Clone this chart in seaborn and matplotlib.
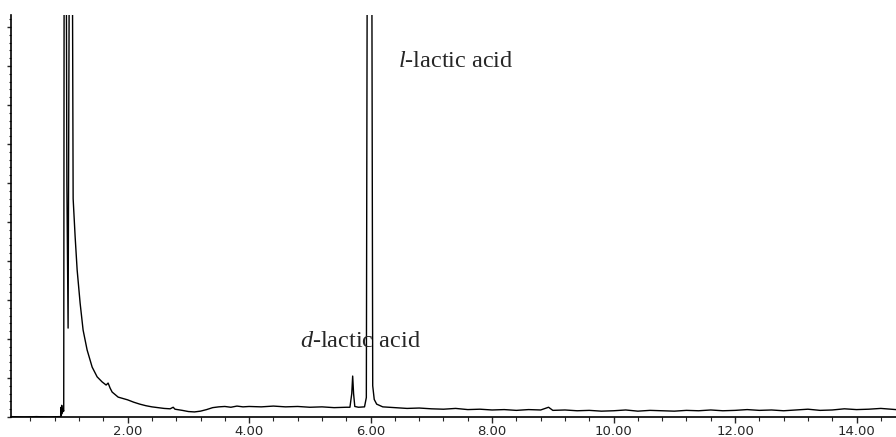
import numpy as np
import pandas as pd
import seaborn as sns
import matplotlib
matplotlib.use("Agg")
import matplotlib.pyplot as plt
from matplotlib.ticker import MultipleLocator, FormatStrFormatter, NullFormatter

# retention time (min) and detector response (arbitrary units)
time = [0.08, 0.30, 0.50, 0.70, 0.88, 0.900, 0.905, 0.910, 0.915, 0.925, 0.935, 0.948,
        0.955, 0.990, 1.000, 1.020, 1.040, 1.090, 1.103,
        1.136, 1.169, 1.218, 1.267, 1.333, 1.416, 1.498, 1.580, 1.646, 1.679, 1.712,
        1.745, 1.844, 2.00,
        2.10, 2.20, 2.30, 2.40, 2.50, 2.60, 2.70, 2.75, 2.78, 2.90, 3.00, 3.10,
        3.20, 3.30, 3.40, 3.50, 3.60, 3.70, 3.80, 3.90, 4.00, 4.20, 4.40, 4.60,
        4.80, 5.00, 5.20, 5.40, 5.60, 5.66, 5.69, 5.705, 5.72, 5.74, 5.80, 5.90,
        5.930, 5.945, 6.020, 6.035, 6.06, 6.10, 6.20, 6.40, 6.60, 6.80, 7.00,
        7.20, 7.40, 7.60, 7.80, 8.00, 8.20, 8.40, 8.60, 8.80, 8.93, 9.00, 9.20,
        9.40, 9.60, 9.80, 10.00, 10.20, 10.40, 10.60, 10.80, 11.00, 11.20, 11.40,
        11.60, 11.80, 12.00, 12.20, 12.40, 12.60, 12.80, 13.00, 13.20, 13.40,
        13.60, 13.80, 14.00, 14.20, 14.40, 14.65]
signal = [0.01, 0.00, 0.01, 0.00, 0.01, 0.00, 0.25, 0.05, 0.30, 0.10, 0.20, 0.15,
          12.0, 12.0, 5.95, 2.28, 12.0, 12.0, 5.60,
          4.62, 3.77, 2.92, 2.23, 1.72, 1.28, 1.03, 0.90, 0.82, 0.87, 0.74,
          0.64, 0.51, 0.44,
          0.38, 0.33, 0.29, 0.26, 0.24, 0.22, 0.21, 0.25, 0.20, 0.17, 0.14, 0.13,
          0.15, 0.19, 0.24, 0.26, 0.27, 0.25, 0.28, 0.26, 0.27, 0.26, 0.28, 0.26,
          0.27, 0.25, 0.26, 0.24, 0.25, 0.25, 0.60, 1.05, 0.60, 0.27, 0.25, 0.26,
          0.50, 12.0, 12.0, 0.80, 0.45, 0.33, 0.26, 0.24, 0.22, 0.23, 0.21,
          0.20, 0.22, 0.19, 0.20, 0.18, 0.19, 0.17, 0.19, 0.18, 0.25, 0.17, 0.18,
          0.16, 0.17, 0.15, 0.16, 0.18, 0.15, 0.17, 0.16, 0.15, 0.17, 0.16,
          0.18, 0.16, 0.17, 0.19, 0.17, 0.18, 0.16, 0.18, 0.20, 0.17,
          0.18, 0.21, 0.19, 0.20, 0.22, 0.19]

df = pd.DataFrame({"time": time, "signal": signal})

sns.set_style("ticks")
plt.rcParams["font.family"] = ["DejaVu Sans"]
plt.rcParams["mathtext.fontset"] = "custom"
plt.rcParams["mathtext.it"] = "Liberation Serif:italic"
plt.rcParams["mathtext.rm"] = "Liberation Serif"

fig = plt.figure(figsize=(8.96, 4.37), dpi=100)
ax = fig.add_axes([11 / 896, 20 / 437, 885 / 896, 402 / 437])

sns.lineplot(data=df, x="time", y="signal", ax=ax, color="black", linewidth=1.0,
             estimator=None, sort=False)

ax.set_xlim(0.08, 14.65)
ax.set_ylim(0, 10.31)
ax.set_xlabel("")
ax.set_ylabel("")

ax.xaxis.set_major_locator(MultipleLocator(2))
ax.xaxis.set_minor_locator(MultipleLocator(0.4))
ax.xaxis.set_major_formatter(FormatStrFormatter("%.2f"))
ax.yaxis.set_major_locator(MultipleLocator(1))
ax.yaxis.set_minor_locator(MultipleLocator(0.2))
ax.yaxis.set_major_formatter(NullFormatter())

ax.tick_params(axis="x", which="major", length=4.5, width=1, pad=1, labelsize=9.5)
ax.tick_params(axis="x", which="minor", length=3, width=0.8)
ax.tick_params(axis="y", which="major", length=3, width=1)
ax.tick_params(axis="y", which="minor", length=1.5, width=0.8)

sns.despine(ax=ax)
for s in ["left", "bottom"]:
    ax.spines[s].set_linewidth(1.2)
    ax.spines[s].set_color("black")

ax.text(6.45, 8.97, r"$l$-lactic acid", family="Liberation Serif", fontsize=17.5,
        va="baseline", ha="left")
ax.text(4.84, 1.79, r"$d$-lactic acid", family="Liberation Serif", fontsize=17.5,
        va="baseline", ha="left")

fig.savefig("out.png", dpi=100)
